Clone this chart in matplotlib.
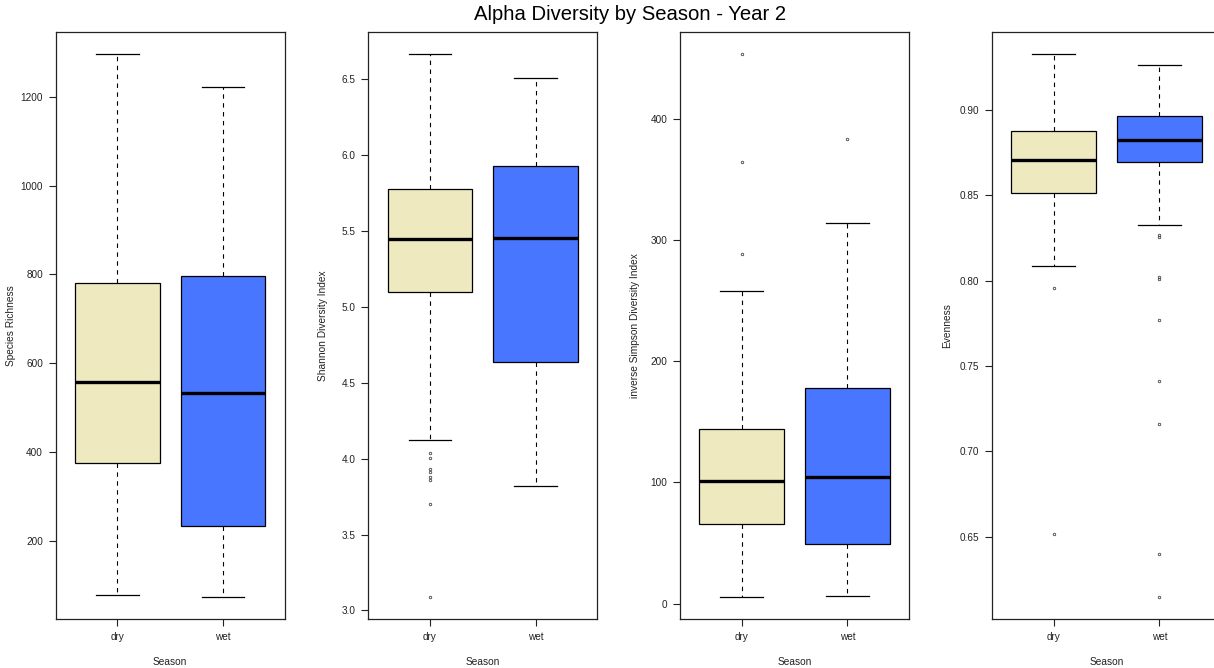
import matplotlib
matplotlib.use("Agg")
import matplotlib.pyplot as plt
from matplotlib.ticker import FormatStrFormatter, MultipleLocator

plt.rcParams['font.family'] = ['Liberation Sans', 'DejaVu Sans']

seasons = ["dry", "wet"]
fill_colors = ["#EEE9BF", "#4876FF"]

# Species richness (five-number summaries per season)
richness_whislo = [78, 73]
richness_q1 = [375, 234]
richness_med = [557, 534]
richness_q3 = [781, 797]
richness_whishi = [1297, 1222]
richness_fliers = [[], []]

# Shannon diversity
shannon_whislo = [4.12, 3.817]
shannon_q1 = [5.10, 4.636]
shannon_med = [5.45, 5.456]
shannon_q3 = [5.779, 5.93]
shannon_whishi = [6.668, 6.506]
shannon_fliers = [[4.04, 4.005, 3.935, 3.91, 3.88, 3.857, 3.70, 3.087], []]

# Inverse Simpson diversity
invsimp_whislo = [5.3, 6.0]
invsimp_q1 = [65.4, 49.6]
invsimp_med = [100.9, 104.4]
invsimp_q3 = [143.8, 178.2]
invsimp_whishi = [258.3, 313.9]
invsimp_fliers = [[453.8, 364.8, 288.6], [383.1]]

# Evenness
even_whislo = [0.8084, 0.8329]
even_q1 = [0.8516, 0.8693]
even_med = [0.8708, 0.8825]
even_q3 = [0.8875, 0.8965]
even_whishi = [0.933, 0.9262]
even_fliers = [[0.7957, 0.6512],
               [0.827, 0.8255, 0.802, 0.8007, 0.777, 0.741, 0.716, 0.640, 0.6144]]

panels = [
    ("Species Richness", richness_whislo, richness_q1, richness_med, richness_q3,
     richness_whishi, richness_fliers, 200, "%d"),
    ("Shannon Diversity Index", shannon_whislo, shannon_q1, shannon_med, shannon_q3,
     shannon_whishi, shannon_fliers, 0.5, "%.1f"),
    ("inverse Simpson Diversity Index", invsimp_whislo, invsimp_q1, invsimp_med,
     invsimp_q3, invsimp_whishi, invsimp_fliers, 100, "%d"),
    ("Evenness", even_whislo, even_q1, even_med, even_q3, even_whishi, even_fliers,
     0.05, "%.2f"),
]

W, H = 1214, 668
fig = plt.figure(figsize=(W / 100, H / 100), dpi=100)

ax_w = 228.5 / W
ax_bottom = 1 - 619 / H
ax_h = (619 - 32) / H
lefts = [56, 368.5, 680.3, 992.3]

text_col = "#222222"

for left, (ylabel, wlo, q1, med, q3, whi, fl, step, fmt) in zip(lefts, panels):
    ax = fig.add_axes([left / W, ax_bottom, ax_w, ax_h])
    stats = []
    for i, name in enumerate(seasons):
        stats.append(dict(label=name, whislo=wlo[i], q1=q1[i], med=med[i],
                          q3=q3[i], whishi=whi[i], fliers=fl[i]))
    bp = ax.bxp(stats, positions=[1, 2], widths=0.8, capwidths=0.4,
                patch_artist=True,
                boxprops=dict(edgecolor="black", linewidth=0.9),
                medianprops=dict(color="black", linewidth=2.4, solid_capstyle="butt"),
                whiskerprops=dict(color="black", linewidth=0.8, linestyle=(0, (4, 4))),
                capprops=dict(color="black", linewidth=0.9),
                flierprops=dict(marker="o", markersize=1.8, markerfacecolor="none",
                                markeredgecolor="#444444", markeredgewidth=0.6,
                                linestyle="none"))
    for patch, c in zip(bp["boxes"], fill_colors):
        patch.set_facecolor(c)

    # y range as in R: data range padded by 4% on each side
    vals = wlo + whi + [v for f in fl for v in f]
    lo, hi = min(vals), max(vals)
    pad = 0.04 * (hi - lo)
    ax.set_ylim(lo - pad, hi + pad)
    ax.set_xlim(0.42, 2.58)

    ax.yaxis.set_major_locator(MultipleLocator(step))
    ax.yaxis.set_major_formatter(FormatStrFormatter(fmt))
    ax.set_xticks([1, 2])
    ax.set_xticklabels(seasons)

    ax.tick_params(axis="both", direction="out", length=5, width=0.8,
                   labelsize=7.2, pad=4.3, colors=text_col, labelcolor=text_col)
    for sp in ax.spines.values():
        sp.set_linewidth(0.9)
        sp.set_color("#222222")

    ax.set_ylabel(ylabel, fontsize=7.3, color=text_col)
    ax.yaxis.set_label_coords(-40 / 228.5, 0.5)
    ax.set_xlabel("Season", fontsize=7.3, color=text_col)
    ax.xaxis.set_label_coords(0.5, -38 / 587)

fig.text(630 / W, 1 - 15 / H, "Alpha Diversity by Season - Year 2",
         ha="center", va="center", fontsize=14.6, color="black")

fig.savefig("out.png", dpi=100)
